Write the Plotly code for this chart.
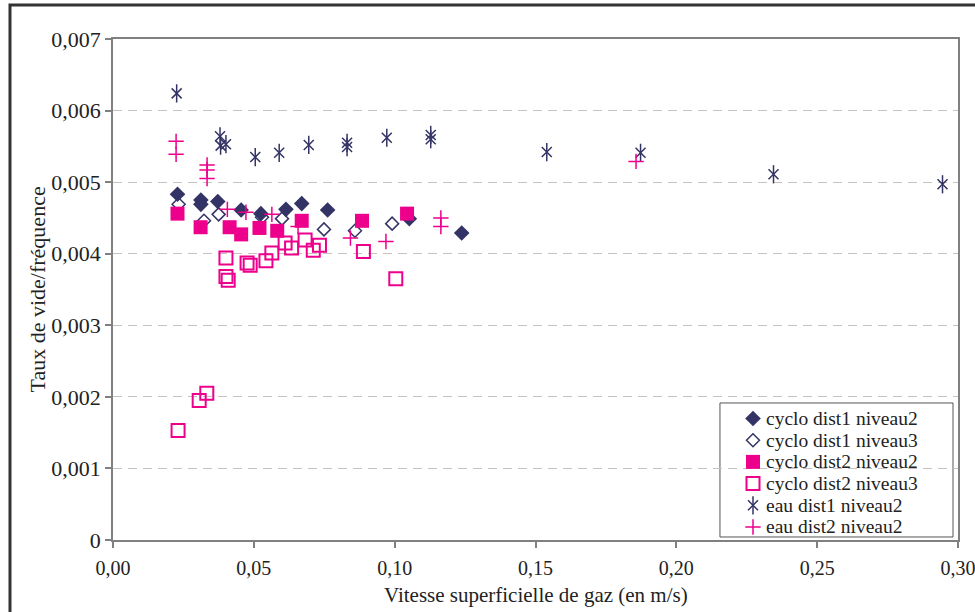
import plotly.graph_objects as go

# Superficial gas velocity (m/s) and void fraction / frequency for each run
cyclo_d1_n2_x = [0.0229, 0.0312, 0.0312, 0.0372, 0.0455, 0.0525, 0.0614, 0.0670, 0.0762, 0.1052, 0.1238]
cyclo_d1_n2_y = [0.00483, 0.00475, 0.00469, 0.00473, 0.00461, 0.00456, 0.00462, 0.00470, 0.00461, 0.00449, 0.00429]

cyclo_d1_n3_x = [0.0233, 0.0323, 0.0375, 0.0529, 0.0600, 0.0749, 0.0859, 0.0991]
cyclo_d1_n3_y = [0.00469, 0.00446, 0.00455, 0.00451, 0.00449, 0.00434, 0.00432, 0.00442]

cyclo_d2_n2_x = [0.0229, 0.0311, 0.0414, 0.0455, 0.0520, 0.0583, 0.0670, 0.0884, 0.1044]
cyclo_d2_n2_y = [0.00456, 0.00437, 0.00437, 0.00427, 0.00436, 0.00432, 0.00446, 0.00446, 0.00456]

cyclo_d2_n3_x = [0.0231, 0.0306, 0.0333, 0.0401, 0.0401, 0.0409, 0.0476, 0.0487, 0.0543, 0.0564,
                 0.0611, 0.0634, 0.0682, 0.0711, 0.0733, 0.0889, 0.1004]
cyclo_d2_n3_y = [0.00153, 0.00195, 0.00205, 0.00394, 0.00368, 0.00363, 0.00387, 0.00384, 0.00390, 0.00401,
                 0.00415, 0.00408, 0.00419, 0.00405, 0.00412, 0.00403, 0.00365]

eau_d1_n2_x = [0.0226, 0.0380, 0.0382, 0.0401, 0.0505, 0.0590, 0.0695, 0.0831, 0.0831, 0.0972,
               0.1128, 0.1128, 0.1540, 0.1873, 0.2345, 0.2945]
eau_d1_n2_y = [0.00624, 0.00564, 0.00551, 0.00553, 0.00535, 0.00541, 0.00552, 0.00555, 0.00549, 0.00562,
               0.00566, 0.00560, 0.00542, 0.00541, 0.00511, 0.00497]

eau_d2_n2_x = [0.0224, 0.0224, 0.0334, 0.0334, 0.0334, 0.0406, 0.0472, 0.0564, 0.0657, 0.0843,
               0.0969, 0.1164, 0.1164, 0.1857]
eau_d2_n2_y = [0.00557, 0.00539, 0.00524, 0.00517, 0.00505, 0.00462, 0.00458, 0.00455, 0.00438, 0.00422,
               0.00417, 0.00450, 0.00438, 0.00529]

series_names = ["cyclo dist1 niveau2", "cyclo dist1 niveau3", "cyclo dist2 niveau2",
                "cyclo dist2 niveau3", "eau dist1 niveau2", "eau dist2 niveau2"]

x_tickvals = [0, 0.05, 0.10, 0.15, 0.20, 0.25, 0.30]
x_ticktext = ["0,00", "0,05", "0,10", "0,15", "0,20", "0,25", "0,30"]
y_tickvals = [0, 0.001, 0.002, 0.003, 0.004, 0.005, 0.006, 0.007]
y_ticktext = ["0", "0,001", "0,002", "0,003", "0,004", "0,005", "0,006", "0,007"]

NAVY = "#333366"
PINK = "#EC008C"
FONT = "Liberation Serif"
TEXT = "#222222"

# marker styles: list of marker layers per series
styles = [
    [dict(symbol="diamond", size=12, color=NAVY, line=dict(width=0))],
    [dict(symbol="diamond-open", size=10, color=NAVY, line=dict(width=1.5, color=NAVY))],
    [dict(symbol="square", size=14, color=PINK, line=dict(width=0))],
    [dict(symbol="square-open", size=13, color=PINK, line=dict(width=2, color=PINK))],
    [dict(symbol="x-thin-open", size=10, color=NAVY, line=dict(width=1.5, color=NAVY)),
     dict(symbol="line-ns-open", size=13, color=NAVY, line=dict(width=1.5, color=NAVY))],
    [dict(symbol="cross-thin-open", size=11, color=PINK, line=dict(width=1.5, color=PINK))],
]
data = [
    (cyclo_d1_n2_x, cyclo_d1_n2_y),
    (cyclo_d1_n3_x, cyclo_d1_n3_y),
    (cyclo_d2_n2_x, cyclo_d2_n2_y),
    (cyclo_d2_n3_x, cyclo_d2_n3_y),
    (eau_d1_n2_x, eau_d1_n2_y),
    (eau_d2_n2_x, eau_d2_n2_y),
]

fig = go.Figure()
for name, (xs, ys), layers in zip(series_names, data, styles):
    for mk in layers:
        fig.add_trace(go.Scatter(x=xs, y=ys, mode="markers", name=name,
                                 marker=mk, showlegend=False, hoverinfo="x+y+name"))

# Legend box drawn on an overlay axis spanning the plot area in [0, 1] units
leg_x0, leg_x1, leg_y0, leg_y1 = 0.7183, 0.9941, 0.006, 0.2735
row_top, row_step = 0.2425, 0.0433
key_x, text_x = 0.7574, 0.7704
for i, (name, layers) in enumerate(zip(series_names, styles)):
    ry = row_top - i * row_step
    for mk in layers:
        fig.add_trace(go.Scatter(x=[key_x], y=[ry], mode="markers", marker=mk,
                                 xaxis="x2", yaxis="y2", showlegend=False, hoverinfo="skip"))
    fig.add_annotation(x=text_x, y=ry, xref="x2", yref="y2", text=name, showarrow=False,
                       xanchor="left", yanchor="middle",
                       font=dict(family=FONT, size=19.5, color=TEXT))

fig.add_shape(type="rect", xref="x2", yref="y2", x0=leg_x0, x1=leg_x1, y0=leg_y0, y1=leg_y1,
              line=dict(color="#555555", width=1), fillcolor="white", layer="below")

# Outer chart frame
fig.add_shape(type="rect", xref="paper", yref="paper", x0=-0.1219, x1=1.03, y0=-0.17, y1=1.0679,
              line=dict(color="#333333", width=3), layer="above")

fig.add_annotation(xref="paper", yref="paper", x=0.5, y=-0.1098, text="Vitesse superficielle de gaz (en m/s)",
                   showarrow=False, xanchor="center", yanchor="middle",
                   font=dict(family=FONT, size=21, color=TEXT))
fig.add_annotation(xref="paper", yref="paper", x=-0.0888, y=0.5, text="Taux de vide/fréquence",
                   textangle=-90, showarrow=False, xanchor="center", yanchor="middle",
                   font=dict(family=FONT, size=22, color=TEXT))

axis_common = dict(showline=True, linecolor="#808080", linewidth=1.5, mirror=True,
                   ticks="outside", ticklen=6, tickcolor="#808080", tickwidth=1.5,
                   zeroline=False, ticklabeloverflow="allow", automargin=False)

fig.update_layout(
    width=975, height=612,
    margin=dict(l=113, r=17, t=39, b=72),
    paper_bgcolor="white", plot_bgcolor="white",
    showlegend=False,
    xaxis=dict(range=[0, 0.30], tickvals=x_tickvals, ticktext=x_ticktext, showgrid=False,
               tickfont=dict(family=FONT, size=20, color=TEXT), ticklabelstandoff=3, **axis_common),
    yaxis=dict(range=[0, 0.007], tickvals=y_tickvals, ticktext=y_ticktext, showgrid=True,
               gridcolor="#C9C0C0", gridwidth=1, griddash="9px,6px",
               tickfont=dict(family=FONT, size=22, color=TEXT), **axis_common),
    xaxis2=dict(range=[0, 1], overlaying="x", visible=False, fixedrange=True),
    yaxis2=dict(range=[0, 1], overlaying="y", visible=False, fixedrange=True),
)

fig.write_html("out.html")
